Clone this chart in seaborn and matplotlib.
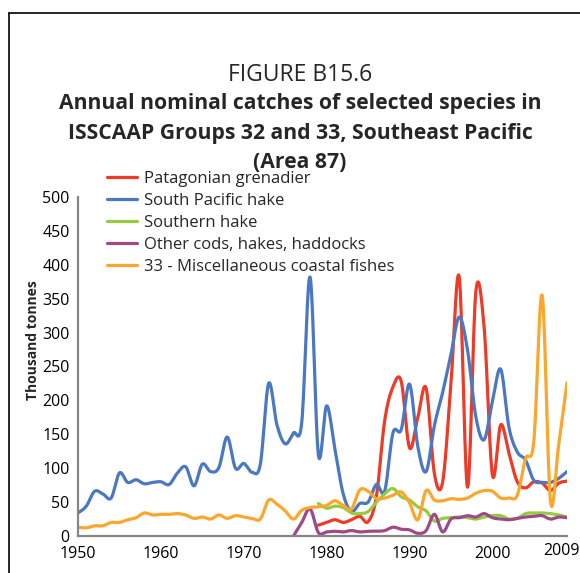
import numpy as np
import pandas as pd
import matplotlib
matplotlib.use("Agg")
import matplotlib.pyplot as plt
import matplotlib.transforms as mtransforms
from matplotlib.lines import Line2D
import seaborn as sns

# data (thousand tonnes)
years = list(range(1950, 2010))

south_pacific_hake = [34, 44, 66, 62, 56, 93, 79, 83, 77, 79,
                      80, 76, 93, 102, 74, 106, 95, 101, 146, 100,
                      107, 94, 106, 225, 164, 136, 152, 168, 382, 120,
                      192, 128, 62, 36, 48, 50, 76, 66, 152, 157,
                      224, 132, 95, 163, 212, 268, 323, 274, 176, 142,
                      198, 246, 160, 124, 112, 82, 79, 79, 85, 95]

# series that start later: values from their first year on
patagonian_start = 1979
patagonian_grenadier = [16, 20, 24, 20, 24, 29, 21, 58, 170, 220,
                        228, 130, 175, 218, 92, 80, 225, 382, 72, 360,
                        308, 90, 164, 122, 80, 71, 80, 78, 67, 78, 81]

southern_start = 1979
southern_hake = [48, 41, 44, 42, 34, 33, 36, 50, 62, 70,
                 58, 53, 43, 37, 22, 26, 27, 28, 27, 25,
                 28, 30, 30, 25, 26, 33, 34, 34, 33, 31, 28]

other_start = 1976
other_cods = [0, 20, 40, 5, 6, 7, 6, 8, 6, 7,
              7, 8, 13, 10, 9, 4, 8, 32, 6, 25,
              27, 30, 28, 33, 27, 25, 24, 26, 28, 29,
              30, 25, 28, 27]

misc_coastal = [13, 12, 15, 15, 20, 20, 24, 27, 34, 31,
                32, 32, 33, 31, 26, 28, 25, 31, 26, 30,
                28, 26, 25, 53, 47, 37, 25, 38, 42, 43,
                45, 52, 45, 40, 68, 66, 55, 56, 60, 65,
                49, 24, 67, 53, 52, 55, 54, 56, 63, 67,
                66, 56, 56, 60, 114, 140, 355, 52, 135, 226]

names = ["Patagonian grenadier", "South Pacific hake", "Southern hake",
         "Other cods, hakes, haddocks", "33 - Miscellaneous coastal fishes"]
colors = ["#EE3A26", "#4A78C2", "#94CC3E", "#9E4A88", "#FBA62C"]

series = [
    (names[0], patagonian_start, patagonian_grenadier),
    (names[1], 1950, south_pacific_hake),
    (names[2], southern_start, southern_hake),
    (names[3], other_start, other_cods),
    (names[4], 1950, misc_coastal),
]


def smooth(x, y, n=16):
    # Excel style smoothed line: cubic bezier through every data point
    x = np.asarray(x, float)
    y = np.asarray(y, float)
    px = np.concatenate([[x[0]], x, [x[-1]]])
    py = np.concatenate([[y[0]], y, [y[-1]]])
    t = np.linspace(0, 1, n, endpoint=False)
    xs, ys = [], []
    for i in range(len(x) - 1):
        p0 = np.array([px[i + 1], py[i + 1]])
        p3 = np.array([px[i + 2], py[i + 2]])
        c1 = p0 + (p3 - np.array([px[i], py[i]])) / 6
        c2 = p3 - (np.array([px[i + 3], py[i + 3]]) - p0) / 6
        b = ((1 - t) ** 3)[:, None] * p0 + (3 * (1 - t) ** 2 * t)[:, None] * c1 \
            + (3 * (1 - t) * t ** 2)[:, None] * c2 + (t ** 3)[:, None] * p3
        xs.extend(b[:, 0])
        ys.extend(b[:, 1])
    xs.append(x[-1])
    ys.append(y[-1])
    return xs, ys


rows = []
for name, start, vals in series:
    yrs = list(range(start, start + len(vals)))
    sx, sy = smooth(yrs, vals)
    for a, b in zip(sx, sy):
        rows.append({"year": a, "catch": b, "series": name})
df = pd.DataFrame(rows)

sns.set_theme(style="white")
plt.rcParams["font.family"] = ["Open Sans", "DejaVu Sans"]

fig = plt.figure(figsize=(5.8, 5.73), dpi=100)
ax = fig.add_axes([78 / 580, 1 - 536 / 573, (567 - 78) / 580, (536 - 197) / 573])

sns.lineplot(data=df, x="year", y="catch", hue="series", hue_order=names,
             palette=dict(zip(names, colors)), estimator=None, sort=False,
             linewidth=2.3, ax=ax)

ax.set_xlim(1950, 2009)
ax.set_ylim(0, 500)
ax.set_xticks([1950, 1960, 1970, 1980, 1990, 2000, 2009])
ax.set_yticks(range(0, 501, 50))
ax.set_xlabel("")
ax.set_ylabel("")
for s in ["top", "right"]:
    ax.spines[s].set_visible(False)
for s in ["left", "bottom"]:
    ax.spines[s].set_color("#868686")
    ax.spines[s].set_linewidth(1.6)
ax.tick_params(axis="both", direction="out", length=4, width=1.2,
               color="#868686", labelsize=11.5, labelcolor="black", pad=2)
ax.tick_params(axis="x", pad=3)

# last year label sits a little left and higher, as in the original
last = ax.get_xticklabels()[-1]
last.set_transform(last.get_transform() +
                   mtransforms.ScaledTranslation(-5 / 100, 3 / 100, fig.dpi_scale_trans))

handles, labels = ax.get_legend_handles_labels()
ax.legend(handles, labels, loc="upper left",
          bbox_to_anchor=(107 / 580, 1 - 171 / 573),
          bbox_transform=fig.transFigure, frameon=False, fontsize=12,
          handlelength=1.8, handletextpad=0.42, labelspacing=0.36,
          borderpad=0, borderaxespad=0)

fig.text(33 / 580, 1 - 340 / 573, "Thousand tonnes", rotation=90,
         ha="center", va="center", fontsize=10, fontweight="bold")

cx = 300 / 580
fig.text(cx, 1 - 75 / 573, "FIGURE B15.6", ha="center", va="center", fontsize=16.5)
fig.text(cx, 1 - 104 / 573, "Annual nominal catches of selected species in",
         ha="center", va="center", fontsize=15.2, fontweight="bold")
fig.text(cx, 1 - 134 / 573, "ISSCAAP Groups 32 and 33, Southeast Pacific",
         ha="center", va="center", fontsize=15.2, fontweight="bold")
fig.text(cx, 1 - 163 / 573, "(Area 87)",
         ha="center", va="center", fontsize=15.2, fontweight="bold")

# frame around the figure panel
fig.add_artist(Line2D([9 / 580, 9 / 580], [1 - 13 / 573, 0], color="black",
                      linewidth=1.2, transform=fig.transFigure))
fig.add_artist(Line2D([9 / 580, 1], [1 - 13 / 573, 1 - 13 / 573], color="black",
                      linewidth=1.2, transform=fig.transFigure))

fig.savefig("out.png", dpi=100)
